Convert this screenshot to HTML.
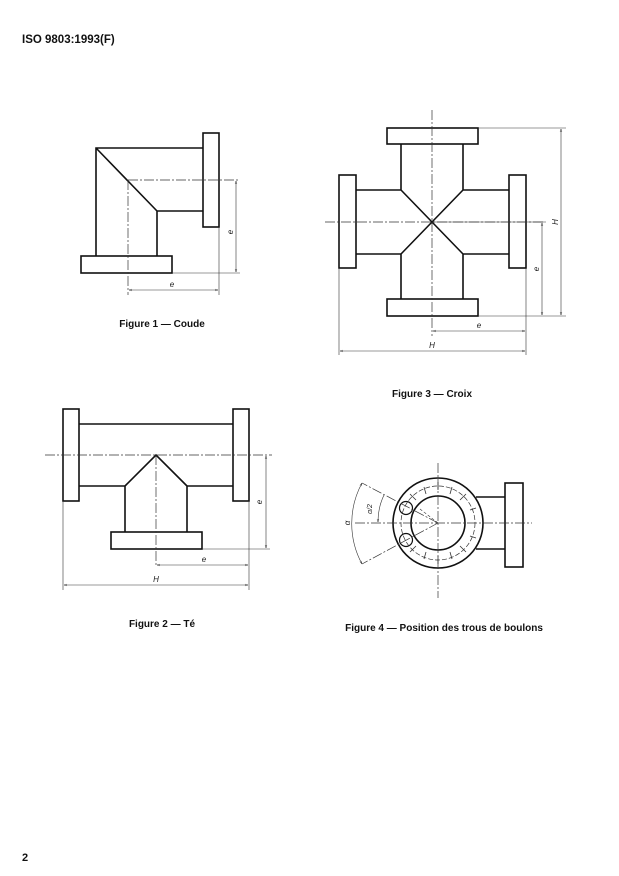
<!DOCTYPE html>
<html><head><meta charset="utf-8"><style>
html,body{margin:0;padding:0;background:#fff;}
svg{display:block;}
.t{font-family:"Liberation Sans",sans-serif;font-weight:bold;fill:#111;}
.l{font-family:"Liberation Sans",sans-serif;font-style:italic;fill:#222;font-size:8px;}
</style></head><body>
<svg width="619" height="876" viewBox="0 0 619 876" xmlns="http://www.w3.org/2000/svg">
<defs>
<marker id="a" viewBox="0 0 10 10" refX="10" refY="5" markerWidth="7" markerHeight="5" orient="auto-start-reverse"><path d="M0,2 L10,5 L0,8" fill="none" stroke="#222" stroke-width="1.2"/></marker>
</defs>
<text class="t" x="22" y="43" font-size="11.5">ISO 9803:1993(F)</text>
<text class="t" x="22" y="861" font-size="11">2</text>

<g fill="none" stroke="#111" stroke-width="1.6">
<!-- Fig 1 -->
<rect x="203" y="133" width="16" height="94"/>
<path d="M96,256 V148 H203 M157,256 V211 H203 M96,148 L157,211"/>
<rect x="81" y="256" width="91" height="17"/>
<!-- Fig 3 -->
<rect x="387" y="128" width="91" height="16"/>
<rect x="387" y="299" width="91" height="17"/>
<rect x="339" y="175" width="17" height="93"/>
<rect x="509" y="175" width="17" height="93"/>
<path d="M401,144 V190 H356 M463,144 V190 H509 M401,299 V254 H356 M463,299 V254 H509 M401,190 L463,254 M463,190 L401,254"/>
<!-- Fig 2 -->
<rect x="63" y="409" width="16" height="92"/>
<rect x="233" y="409" width="16" height="92"/>
<rect x="111" y="532" width="91" height="17"/>
<path d="M79,424 H233 M79,486 H125 V532 M233,486 H187 V532 M125,486 L156,455 L187,486"/>
<!-- Fig 4 -->
<circle cx="438" cy="523" r="45"/>
<circle cx="438" cy="523" r="27"/>
<rect x="505" y="483" width="18" height="84"/>
<path d="M476,497 H505 M476,549 H505"/>
<circle cx="406" cy="508" r="6.5" stroke-width="1.2"/>
<circle cx="406" cy="540" r="6.5" stroke-width="1.2"/>
</g>

<g fill="none" stroke="#333" stroke-width="0.7" stroke-dasharray="10,2,2,2">
<path d="M128,180 H240 M128,180 V295"/>
<path d="M432,110 V336 M325,222 H545"/>
<path d="M45,455 H272 M156,455 V567"/>
<path d="M438,463 V598 M355,523 H532"/>
<path d="M438,523 L362,483 M438,523 L362,564"/>
<circle cx="438" cy="523" r="37" stroke-dasharray="5,2"/>
</g>

<g fill="none" stroke="#333" stroke-width="0.6">
<!-- fig1 dims -->
<path d="M219,273 H240 M219,227 V295 M172,273 H219"/>
<path d="M236,181 V272" marker-start="url(#a)" marker-end="url(#a)"/>
<path d="M129,290 H218" marker-start="url(#a)" marker-end="url(#a)"/>
<!-- fig3 dims -->
<path d="M478,128 H566 M478,316 H566 M339,268 V355 M526,268 V355 M432,222 H546"/>
<path d="M561,129 V315" marker-start="url(#a)" marker-end="url(#a)"/>
<path d="M542,223 V315" marker-start="url(#a)" marker-end="url(#a)"/>
<path d="M433,331 H525" marker-start="url(#a)" marker-end="url(#a)"/>
<path d="M340,351 H525" marker-start="url(#a)" marker-end="url(#a)"/>
<!-- fig2 dims -->
<path d="M202,549 H270 M63,501 V590 M249,501 V590"/>
<path d="M266,456 V548" marker-start="url(#a)" marker-end="url(#a)"/>
<path d="M157,565 H248" marker-start="url(#a)" marker-end="url(#a)"/>
<path d="M64,585 H248" marker-start="url(#a)" marker-end="url(#a)"/>
<!-- fig4 -->
<path d="M362,483 A85,85 0 0 0 362,564" marker-start="url(#a)" marker-end="url(#a)"/>
<path d="M384,495 A61,61 0 0 0 378,522" marker-end="url(#a)"/>
<path d="M438,523 L420,509" stroke-dasharray="3,2"/>
<g stroke="#333" stroke-width="0.8">
<path d="M438,482 V490 M438,556 V564 M466,494 L460,500 M410,494 L416,500 M466,552 L460,546 M410,552 L416,546 M476,508 L470,510 M476,538 L470,536 M452,487 L450,494 M424,487 L426,494 M452,559 L450,552 M424,559 L426,552"/>
</g>
</g>

<g class="l">
<text x="233" y="232" transform="rotate(-90 233 232)" text-anchor="middle">e</text>
<text x="172" y="287" text-anchor="middle">e</text>
<text x="558" y="222" transform="rotate(-90 558 222)" text-anchor="middle">H</text>
<text x="539" y="269" transform="rotate(-90 539 269)" text-anchor="middle">e</text>
<text x="479" y="328" text-anchor="middle">e</text>
<text x="432" y="348" text-anchor="middle">H</text>
<text x="262" y="502" transform="rotate(-90 262 502)" text-anchor="middle">e</text>
<text x="204" y="562" text-anchor="middle">e</text>
<text x="156" y="582" text-anchor="middle">H</text>
<text x="350" y="523" transform="rotate(-90 350 523)" text-anchor="middle">α</text>
<text x="372" y="509" transform="rotate(-90 372 509)" text-anchor="middle" font-size="7">α/2</text>
</g>

<text class="t" x="162" y="327" font-size="10" text-anchor="middle">Figure 1 — Coude</text>
<text class="t" x="432" y="397" font-size="10" text-anchor="middle">Figure 3 — Croix</text>
<text class="t" x="162" y="627" font-size="10" text-anchor="middle">Figure 2 — Té</text>
<text class="t" x="444" y="631" font-size="10" text-anchor="middle">Figure 4 — Position des trous de boulons</text>
</svg>
</body></html>
